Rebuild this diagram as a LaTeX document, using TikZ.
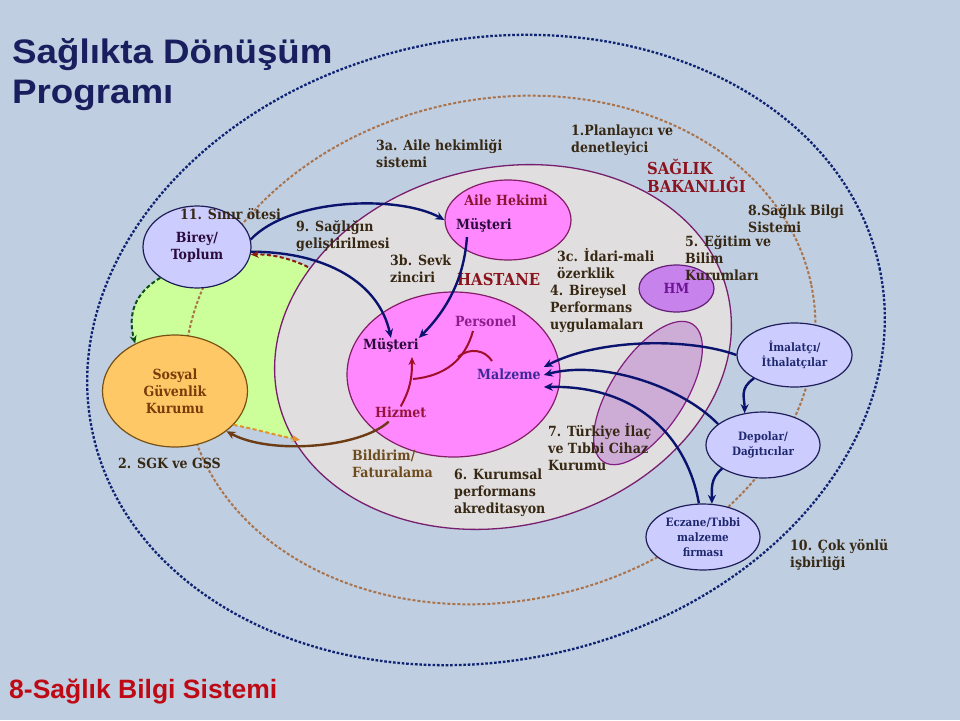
\documentclass[tikz,border=0pt]{standalone}
\usepackage{fontspec}
\setmainfont{DejaVu Serif}
\newfontfamily\labf[FakeStretch=0.9]{DejaVu Serif}
\newfontfamily\titf[FakeStretch=1.08]{Liberation Sans}
\newfontfamily\botf{Liberation Sans}
\usetikzlibrary{shapes.geometric,arrows.meta,calc}
\definecolor{bgc}{RGB}{191,206,224}
\definecolor{ring10c}{RGB}{15,35,115}
\definecolor{ring1c}{RGB}{170,115,75}
\definecolor{greenc}{RGB}{204,255,153}
\definecolor{hospf}{RGB}{224,222,222}
\definecolor{hospd}{RGB}{120,30,110}
\definecolor{pinkc}{RGB}{255,136,255}
\definecolor{pinkd}{RGB}{130,30,100}
\definecolor{orangec}{RGB}{255,200,102}
\definecolor{oranged}{RGB}{120,80,20}
\definecolor{lavc}{RGB}{204,204,255}
\definecolor{lavd}{RGB}{30,30,90}
\definecolor{hmc}{RGB}{200,130,235}
\definecolor{hmd}{RGB}{100,30,120}
\definecolor{hmt}{RGB}{110,20,150}
\definecolor{tiltc}{RGB}{170,80,200}
\definecolor{tiltd}{RGB}{130,30,130}
\definecolor{navyc}{RGB}{10,20,110}
\definecolor{labc}{RGB}{55,40,20}
\definecolor{darkred}{RGB}{140,20,30}
\definecolor{ahc}{RGB}{140,20,50}
\definecolor{musc}{RGB}{42,10,58}
\definecolor{persc}{RGB}{140,30,140}
\definecolor{malzc}{RGB}{60,40,150}
\definecolor{hizc}{RGB}{150,20,60}
\definecolor{sgkt}{RGB}{120,60,10}
\definecolor{bildc}{RGB}{110,75,30}
\definecolor{rightt}{RGB}{30,40,110}
\definecolor{titc}{RGB}{25,30,95}
\definecolor{redc}{RGB}{190,10,20}
\definecolor{redarr}{RGB}{160,15,40}
\definecolor{brownarr}{RGB}{110,60,20}
\definecolor{orangearr}{RGB}{225,145,45}
\definecolor{dredarr}{RGB}{140,30,10}
\definecolor{greenarr}{RGB}{10,80,20}
\begin{document}
\begin{tikzpicture}[x=1pt,y=-1pt,
  lbl/.style={font=\labf\bfseries\fontsize{14}{17}\selectfont, text=labc, align=left, anchor=west, inner sep=0pt},
  biglbl/.style={lbl, font=\labf\bfseries\fontsize{16.5}{18.5}\selectfont, text=darkred},
  ell/.style={ellipse, inner sep=0pt, line width=1.2pt, align=center},
  lav/.style={ell, fill=lavc, draw=lavd, text=rightt, font=\labf\bfseries\fontsize{11.5}{15}\selectfont},
  navyarr/.style={draw=navyc, line width=2.4pt, -{Stealth[length=9pt,width=8pt]}},
]
\useasboundingbox (0,0) rectangle (960,720);
\fill[bgc] (0,0) rectangle (960,720);

% rings and regions
\node[ellipse, draw=ring10c, line width=2.3pt, dash pattern=on 2.6pt off 1.8pt, minimum width=804pt, minimum height=622pt, inner sep=0pt, rotate=11.5] (ring10) at (486,350) {};
% green region bounded by the dashed arrows
\coordinate (g1) at (161,277);
\coordinate (g2) at (135.6,344);
\coordinate (g3) at (233,424.6);
\coordinate (g4) at (300,440);
\coordinate (g5) at (330,350);
\coordinate (g6) at (308,267);
\coordinate (g7) at (250,254.5);
\fill[greenc] (g1) .. controls +(-25,15) and +(-8,-30) .. (g2) -- (g3) .. controls +(25,5) and +(-25,-5) .. (g4) -- (g5) -- (g6) .. controls (290,258) and (270,254) .. (g7) -- (197,247) -- cycle;
\node[ellipse, draw=ring1c, line width=2pt, dash pattern=on 3pt off 2pt, minimum width=636pt, minimum height=502pt, inner sep=0pt, rotate=12] (ring1) at (500,350) {};
\node[ell, fill=hospf, draw=hospd, line width=1.3pt, minimum width=462pt, minimum height=358pt, rotate=13.8] (hosp) at (503,347) {};
\node[ell, fill=pinkc, draw=pinkd, minimum width=126pt, minimum height=80pt] (aile) at (508,220) {};
\node[ell, fill=pinkc, draw=pinkd, minimum width=213pt, minimum height=165pt] (hpink) at (453.5,374.5) {};
\node[ell, fill=hmc, draw=hmd, minimum width=75pt, minimum height=47pt, text=hmt, font=\labf\bfseries\fontsize{14}{17}\selectfont] (hm) at (676.5,288.5) {HM};
\node[ell, fill=tiltc, fill opacity=0.35, draw=tiltd, minimum width=164pt, minimum height=74pt, rotate=57] (tilt) at (648,393) {};
\node[ell, fill=lavc, draw=lavd, minimum width=108pt, minimum height=82pt, text=musc, font=\labf\bfseries\fontsize{14}{17}\selectfont] (birey) at (197,247) {Birey/\\Toplum};
\node[ell, fill=orangec, draw=oranged, minimum width=145pt, minimum height=112pt, text=sgkt, font=\labf\bfseries\fontsize{14}{17}\selectfont] (sgk) at (175,391) {Sosyal\\Güvenlik\\Kurumu};
\node[lav, minimum width=115pt, minimum height=64pt] (imal) at (794.5,355) {İmalatçı/\\İthalatçılar};
\node[lav, minimum width=114pt, minimum height=66pt] (depo) at (763,445) {Depolar/\\Dağıtıcılar};
\node[lav, minimum width=114pt, minimum height=66pt] (ecz) at (703,537) {Eczane/Tıbbi\\malzeme\\firması};

% labels
\node[lbl] (l3a) at (376,154) {3a. Aile hekimliği\\sistemi};
\node[lbl] (l1) at (571,140) {1.Planlayıcı ve\\denetleyici};
\node[biglbl] (lsb) at (647,176) {SAĞLIK\\BAKANLIĞI};
\node[lbl] (l11) at (180,214) {11. Sınır ötesi};
\node[lbl] (l9) at (296,236) {9. Sağlığın\\geliştirilmesi};
\node[lbl] (l3b) at (390,269) {3b. Sevk\\zinciri};
\node[biglbl] (lhas) at (457,279) {HASTANE};
\node[lbl] (l3c) at (557,264) {3c. İdari-mali\\özerklik};
\node[lbl] (l4) at (550,309) {4. Bireysel\\Performans\\uygulamaları};
\node[lbl] (l5) at (685,258) {5. Eğitim ve\\Bilim\\Kurumları};
\node[lbl] (l8) at (748,218.5) {8.Sağlık Bilgi\\Sistemi};
\node[lbl] (l2) at (118,463) {2. SGK ve GSS};
\node[lbl, text=bildc] (lbf) at (352,464) {Bildirim/\\Faturalama};
\node[lbl] (l6) at (454,493) {6. Kurumsal\\performans\\akreditasyon};
\node[lbl] (l7) at (548,447.5) {7. Türkiye İlaç\\ve Tıbbi Cihaz\\Kurumu};
\node[lbl] (l10) at (790,555.5) {10. Çok yönlü\\işbirliği};

\node[lbl, text=ahc, anchor=center] (ahk) at (506,200) {Aile Hekimi};
\node[lbl, text=musc] (amus) at (456,225) {Müşteri};
\node[lbl, text=persc] (pers) at (455,321) {Personel};
\node[lbl, text=musc] (hmus) at (363,345) {Müşteri};
\node[lbl, text=malzc] (malz) at (477,374) {Malzeme};
\node[lbl, text=hizc] (hiz) at (375,412) {Hizmet};

\node[anchor=north west, inner sep=0pt, align=left, text=titc, font=\titf\bfseries\fontsize{34}{40}\selectfont] (title) at (12,38) {Sağlıkta Dönüşüm\\Programı};
\node[anchor=base west, inner sep=0pt, text=redc, font=\botf\bfseries\fontsize{26.5}{30}\selectfont] (foot) at (9,698) {8-Sağlık Bilgi Sistemi};

% free ends
\coordinate (hup) at (412,357);
\coordinate (jn) at (413,379);
\coordinate (jb) at (458,357);
\coordinate (malzin) at (492,361);
\coordinate (persout) at (473,331);
\coordinate (mz1) at ($(malz.east)+(3,-7)$);
\coordinate (mz2) at ($(malz.east)+(3,1)$);
\coordinate (mz3) at ($(malz.east)+(3,13)$);

% connectors
\draw[navyarr] (birey.8) .. controls +(40,-42) and +(-45,-25) .. (aile.west);
\draw[navyarr] (birey.-5) .. controls +(75,0) and +(-12,-55) .. (hmus.north);
\draw[navyarr] ($(amus.south)+(-17,5)$) .. controls +(-3,45) and +(25,-25) .. (hmus.north east);
\draw[draw=redarr, line width=2pt, -{Stealth[length=8pt,width=7pt]}] (hiz.north) .. controls +(10,-18) and +(0,20) .. (hup);
\draw[draw=redarr, line width=2pt] (jn) .. controls (445,376) and (465,360) .. (persout);
\draw[draw=redarr, line width=2pt] (jb) .. controls (470,347) and (485,350) .. (malzin);
\draw[draw=brownarr, line width=2.4pt, -{Stealth[length=9pt,width=8pt]}] ($(hiz.south)+(-12,4)$) .. controls (360,448) and (270,455) .. (sgk.-38);
\draw[draw=orangearr, line width=2pt, dash pattern=on 4pt off 2.5pt, -{Stealth[length=8pt,width=7pt]}] (sgk.-30) .. controls +(25,5) and +(-25,-5) .. (g4);
\draw[draw=dredarr, line width=2pt, dash pattern=on 4pt off 2.5pt, -{Stealth[length=8pt,width=7pt]}] (g6) .. controls (290,258) and (270,254) .. (birey.-8);
\draw[draw=greenarr, line width=2pt, dash pattern=on 4pt off 2.5pt, -{Stealth[length=8pt,width=7pt]}] (birey.-140) .. controls +(-25,15) and +(-8,-30) .. (sgk.130);

\draw[navyarr] (imal.west) .. controls (690,338) and (600,338) .. (mz1);
\draw[navyarr] (depo.155) .. controls (680,385) and (600,360) .. (mz2);
\draw[navyarr] (ecz.97) .. controls (688,440) and (640,385) .. (mz3);
\draw[navyarr] (imal.-150) .. controls +(-15,10) and +(0,-15) .. (depo.120);
\draw[navyarr] (depo.-150) .. controls +(-12,10) and +(0,-15) .. (ecz.75);
\end{tikzpicture}
\end{document}
